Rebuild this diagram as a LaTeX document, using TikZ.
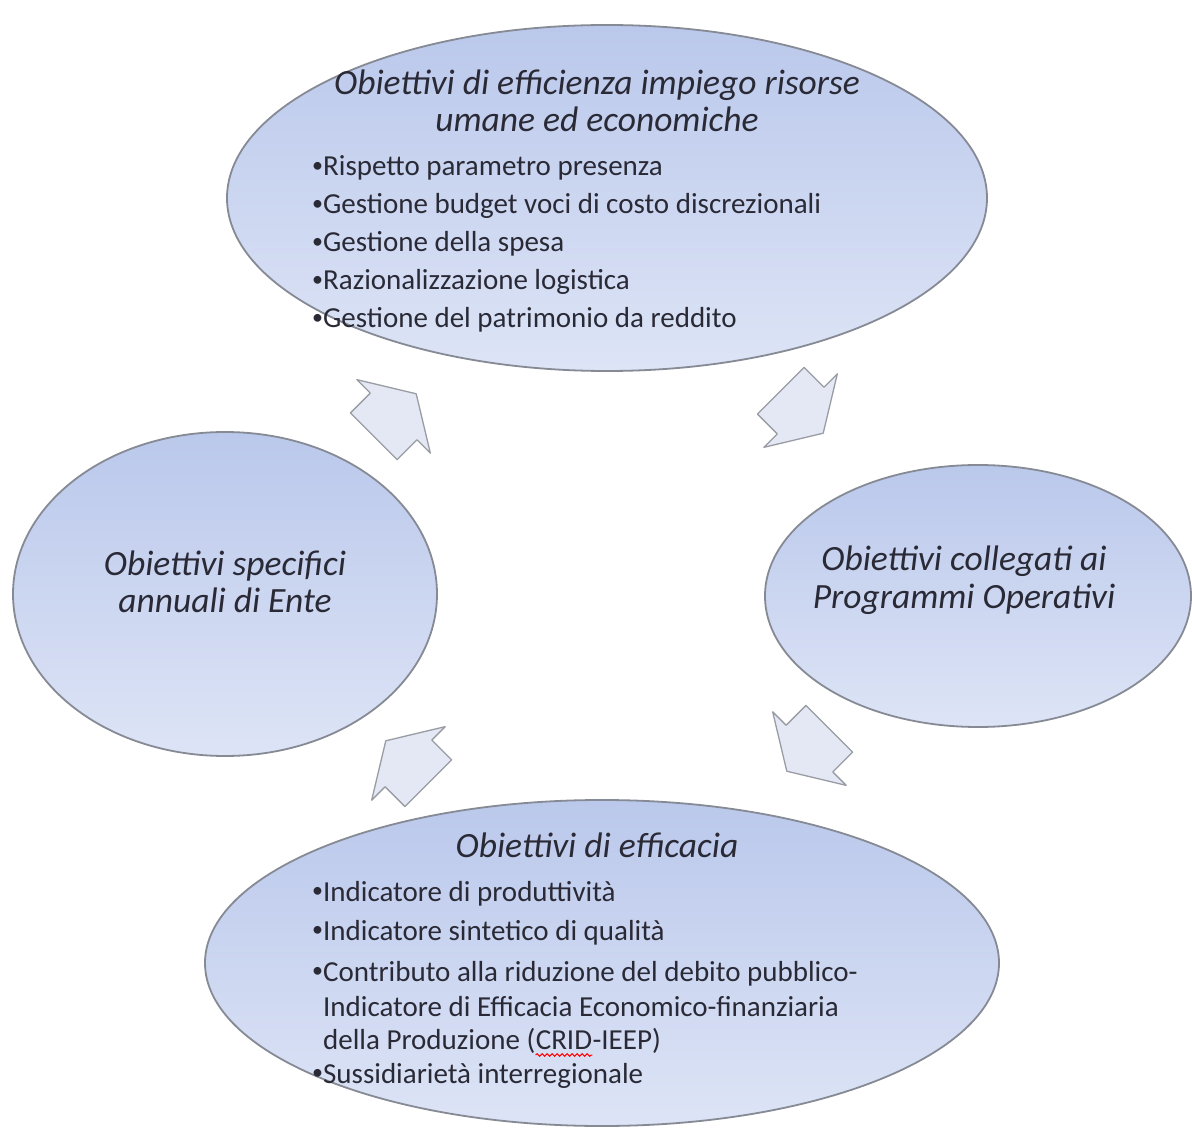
\documentclass[tikz,border=0pt]{standalone}
\usepackage{fontspec}
\setmainfont{Carlito}
\usetikzlibrary{shapes.geometric,decorations.pathmorphing}
\definecolor{elltop}{HTML}{BAC8EB}
\definecolor{ellbot}{HTML}{DDE4F6}
\definecolor{ellline}{HTML}{868A94}
\definecolor{arrfill}{HTML}{E4E8F5}
\definecolor{arrline}{HTML}{9A9CA4}
\definecolor{txt}{HTML}{2A2A36}
\newcommand\bul{\raisebox{0.12em}{\fontsize{22}{22}\selectfont •}}
\begin{document}
\begin{tikzpicture}[x=1pt,y=1pt,
  blob/.style={ellipse, draw=ellline, line width=1.8pt, top color=elltop, bottom color=ellbot, inner sep=0pt},
  ttl/.style={font=\fontsize{35.5}{37.5}\selectfont\itshape, text=txt, inner sep=0pt, align=center},
  itm/.style={font=\fontsize{29}{37}\selectfont, text=txt, inner sep=0pt, anchor=base west},
  spell/.style={draw=red, line width=1pt, decorate, decoration={snake, amplitude=1.3pt, segment length=5pt}},
  cycarrow/.pic={\draw[draw=arrline, line width=1.3pt, fill=arrfill, line join=round]
      (-30,-33) -- (-2,-33) -- (-2,-52) -- (30,0) -- (-2,52) -- (-2,33) -- (-30,33) -- cycle;},
]
\useasboundingbox (0,0) rectangle (1192,-1131);
\fill[white] (0,0) rectangle (1192,-1131);

% ellipses
\node[blob, minimum width=760pt, minimum height=346pt] (top) at (607,-198) {};
\node[blob, minimum width=424pt, minimum height=324pt] (left) at (225,-594) {};
\node[blob, minimum width=426pt, minimum height=262pt] (right) at (978,-596) {};
\node[blob, minimum width=794pt, minimum height=326pt] (bot) at (602,-963) {};

% cycle arrows (clockwise)
\pic[rotate=45] (a1) at (395,-415) {cycarrow};
\pic[rotate=-45] (a2) at (802,-412) {cycarrow};
\pic[rotate=-135] (a3) at (808,-750) {cycarrow};
\pic[rotate=135] (a4) at (407,-762) {cycarrow};

% top ellipse text
\node[ttl] (tt) at (597,-101) {Obiettivi di efficienza impiego risorse\\umane ed economiche};
\node[itm] (t1) at (312,-176) {\bul Rispetto parametro presenza};
\node[itm] (t2) at (312,-214) {\bul Gestione budget voci di costo discrezionali};
\node[itm] (t3) at (312,-252) {\bul Gestione della spesa};
\node[itm] (t4) at (312,-290) {\bul Razionalizzazione logistica};
\node[itm] (t5) at (312,-328) {\bul Gestione del patrimonio da reddito};

% left and right
\node[ttl] (lt) at (225,-582) {Obiettivi specifici\\annuali di Ente};
\node[ttl] (rt) at (964,-580) {Obiettivi collegati ai\\Programmi Operativi};

% bottom ellipse text
\node[ttl] (bt) at (597,-845) {Obiettivi di efficacia};
\node[itm] (b1) at (312,-901) {\bul Indicatore di produttività};
\node[itm] (b2) at (312,-940) {\bul Indicatore sintetico di qualità};
\node[itm] (b3) at (312,-981) {\bul Contributo alla riduzione del debito pubblico-};
\node[itm] (b4) at (312,-1016) {\phantom{\bul}Indicatore di Efficacia Economico-finanziaria};
\node[itm] (b5) at (312,-1049) {\phantom{\bul}della Produzione (};
\node[itm] (crid) at (b5.base east) {CRID};
\node[itm] (b5b) at (crid.base east) {-IEEP)};
\draw[spell] ([yshift=-6pt]crid.base west) -- ([yshift=-6pt]crid.base east);
\node[itm] (b6) at (312,-1083) {\bul Sussidiarietà interregionale};
\end{tikzpicture}
\end{document}
